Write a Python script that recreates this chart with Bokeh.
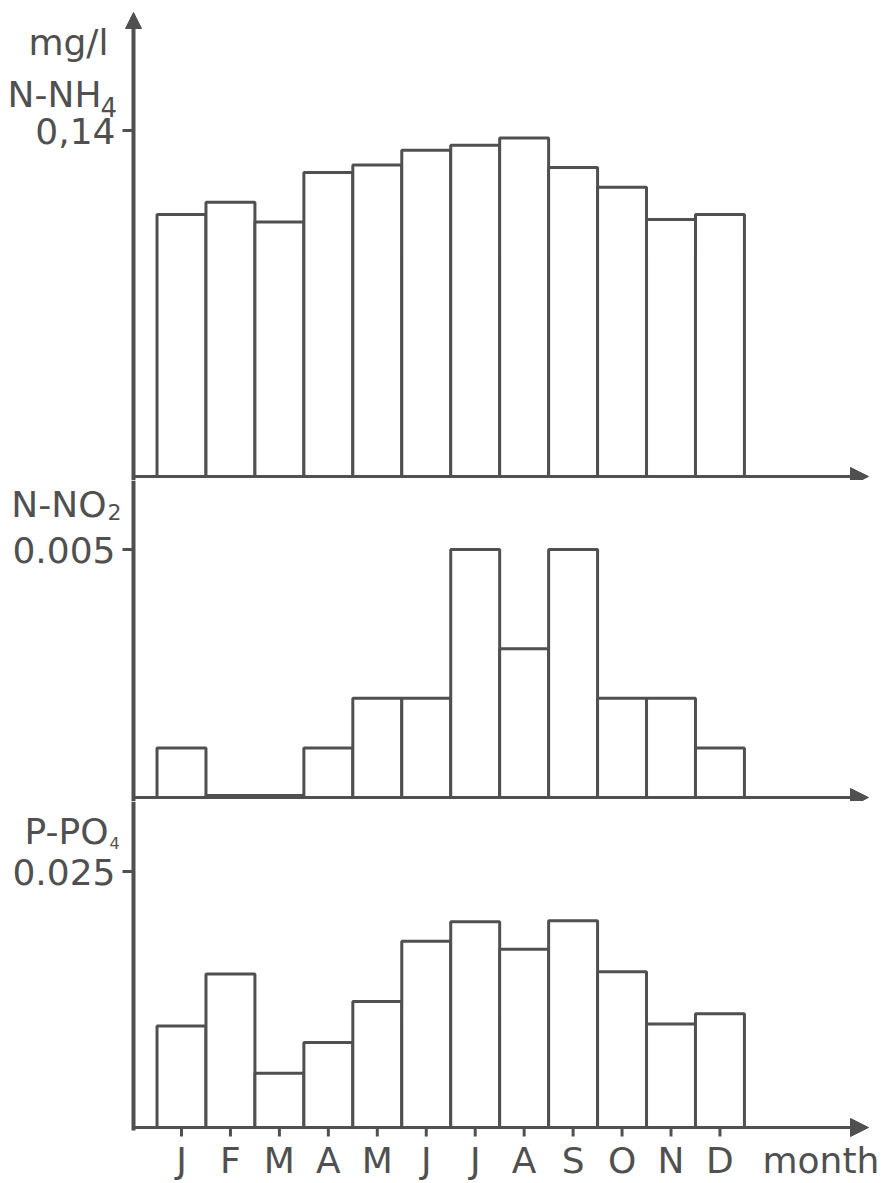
from bokeh.plotting import figure
from bokeh.layouts import column
from bokeh.models import Label, Arrow, NormalHead, ColumnDataSource, Span
from bokeh.core.properties import value
from bokeh.embed import file_html
from bokeh.resources import INLINE

# ---- data ----
months = ["J", "F", "M", "A", "M", "J", "J", "A", "S", "O", "N", "D"]
month_pos = [1, 2, 3, 4, 5, 6, 7, 8, 9, 10, 11, 12]
nh4 = [0.106, 0.111, 0.103, 0.123, 0.126, 0.132, 0.134, 0.137, 0.125, 0.117, 0.104, 0.106]
no2 = [0.001, 0.00004, 0.00004, 0.001, 0.002, 0.002, 0.005, 0.003, 0.005, 0.002, 0.002, 0.001]
po4 = [0.0099, 0.0150, 0.0053, 0.0083, 0.0123, 0.0182, 0.0201, 0.0174, 0.0202, 0.0152, 0.0101, 0.0111]
tick_nh4 = 0.14
tick_no2 = 0.005
tick_po4 = 0.025
tick_lbl_nh4 = "0,14"
tick_lbl_no2 = "0.005"
tick_lbl_po4 = "0.025"
x_title = "month"
y_unit = "mg/l"

INK = "#505050"
FONT = "DejaVu Sans"
FS = "36px"
W = 894
BAR_PX = 48.95          # pixels per month
J_CENTER_PX = 181.0      # page x of January centre


def xd(px):
    """page x -> data x"""
    return 1 + (px - J_CENTER_PX) / BAR_PX


X0, X1 = xd(0), xd(W)
XAX = xd(133)
XTIP = xd(868)


def make_fig(height, y0, y1):
    p = figure(width=W, height=height, x_range=(X0, X1), y_range=(y0, y1),
               output_backend="svg", toolbar_location=None,
               x_axis_location=None, y_axis_location=None,
               min_border=0)
    p.outline_line_color = None
    p.grid.visible = False
    return p


def bars(p, vals):
    src = ColumnDataSource(dict(x=month_pos, top=vals))
    p.vbar(x="x", top="top", bottom=0, width=1.0, source=src,
           fill_color="white", line_color=INK, line_width=3)
    p.add_layout(Arrow(end=NormalHead(size=18, fill_color=INK, line_color=INK),
                       x_start=XAX, y_start=0, x_end=XTIP, y_end=0,
                       line_color=INK, line_width=3))


def lab(p, x, y, text, size=FS, align="right"):
    p.add_layout(Label(x=x, y=y, text=text, text_font=FONT, text_font_size=size,
                       text_color=INK, text_align=align, text_baseline="middle"))


def ytick(p, tick, text):
    p.segment(x0=[xd(122)], y0=[tick], x1=[XAX], y1=[tick],
              line_color=INK, line_width=3)
    lab(p, xd(115), tick, text)


# panel 1: N-NH4   (baseline at page y 476, 0.14 at y 130)
B1 = 476
ppu1 = 346 / tick_nh4
p1 = make_fig(480, -4 / ppu1, (B1 - 0) / ppu1)
bars(p1, nh4)
p1.add_layout(Arrow(end=NormalHead(size=16, fill_color=INK, line_color=INK),
                    x_start=XAX, y_start=-4 / ppu1, x_end=XAX, y_end=(B1 - 12) / ppu1,
                    line_color=INK, line_width=4))
ytick(p1, tick_nh4, tick_lbl_nh4)
lab(p1, xd(108), (B1 - 42) / ppu1, y_unit)
lab(p1, xd(101), (B1 - 94) / ppu1, "N-NH")
lab(p1, xd(100), (B1 - 106) / ppu1, "4", size="26px", align="left")

# panel 2: N-NO2   (baseline at page y 797, 0.005 at y 549)
B2 = 797
ppu2 = 248 / tick_no2
p2 = make_fig(321, -4 / ppu2, (B2 - 480) / ppu2)
p2.add_layout(Span(location=XAX, dimension="height", line_color=INK, line_width=4))
bars(p2, no2)
ytick(p2, tick_no2, tick_lbl_no2)
lab(p2, xd(106), (B2 - 504) / ppu2, "N-NO")
lab(p2, xd(107), (B2 - 511) / ppu2, "2", size="22px", align="left")

# panel 3: P-PO4   (baseline at page y 1127, 0.025 at y 871)
B3 = 1127
ppu3 = 256 / tick_po4
p3 = make_fig(382, -(1183 - B3) / ppu3, (B3 - 801) / ppu3)
p3.segment(x0=[XAX], y0=[-3 / ppu3], x1=[XAX], y1=[(B3 - 801) / ppu3],
           line_color=INK, line_width=4)
bars(p3, po4)
ytick(p3, tick_po4, tick_lbl_po4)
p3.segment(x0=month_pos, y0=[0] * 12, x1=month_pos, y1=[-9 / ppu3] * 12,
           line_color=INK, line_width=3)
p3.text(x=month_pos, y=[(B3 - 1160) / ppu3] * 12, text=months, text_font=value(FONT),
        text_font_size=FS, text_color=INK, text_align="center",
        text_baseline="middle")
lab(p3, xd(762), (B3 - 1160) / ppu3, x_title, align="left")
lab(p3, xd(108), (B3 - 831) / ppu3, "P-PO")
lab(p3, xd(109), (B3 - 842) / ppu3, "4", size="16px", align="left")

layout = column(p1, p2, p3, spacing=0)
open("out.html", "w").write(file_html(layout, INLINE))
